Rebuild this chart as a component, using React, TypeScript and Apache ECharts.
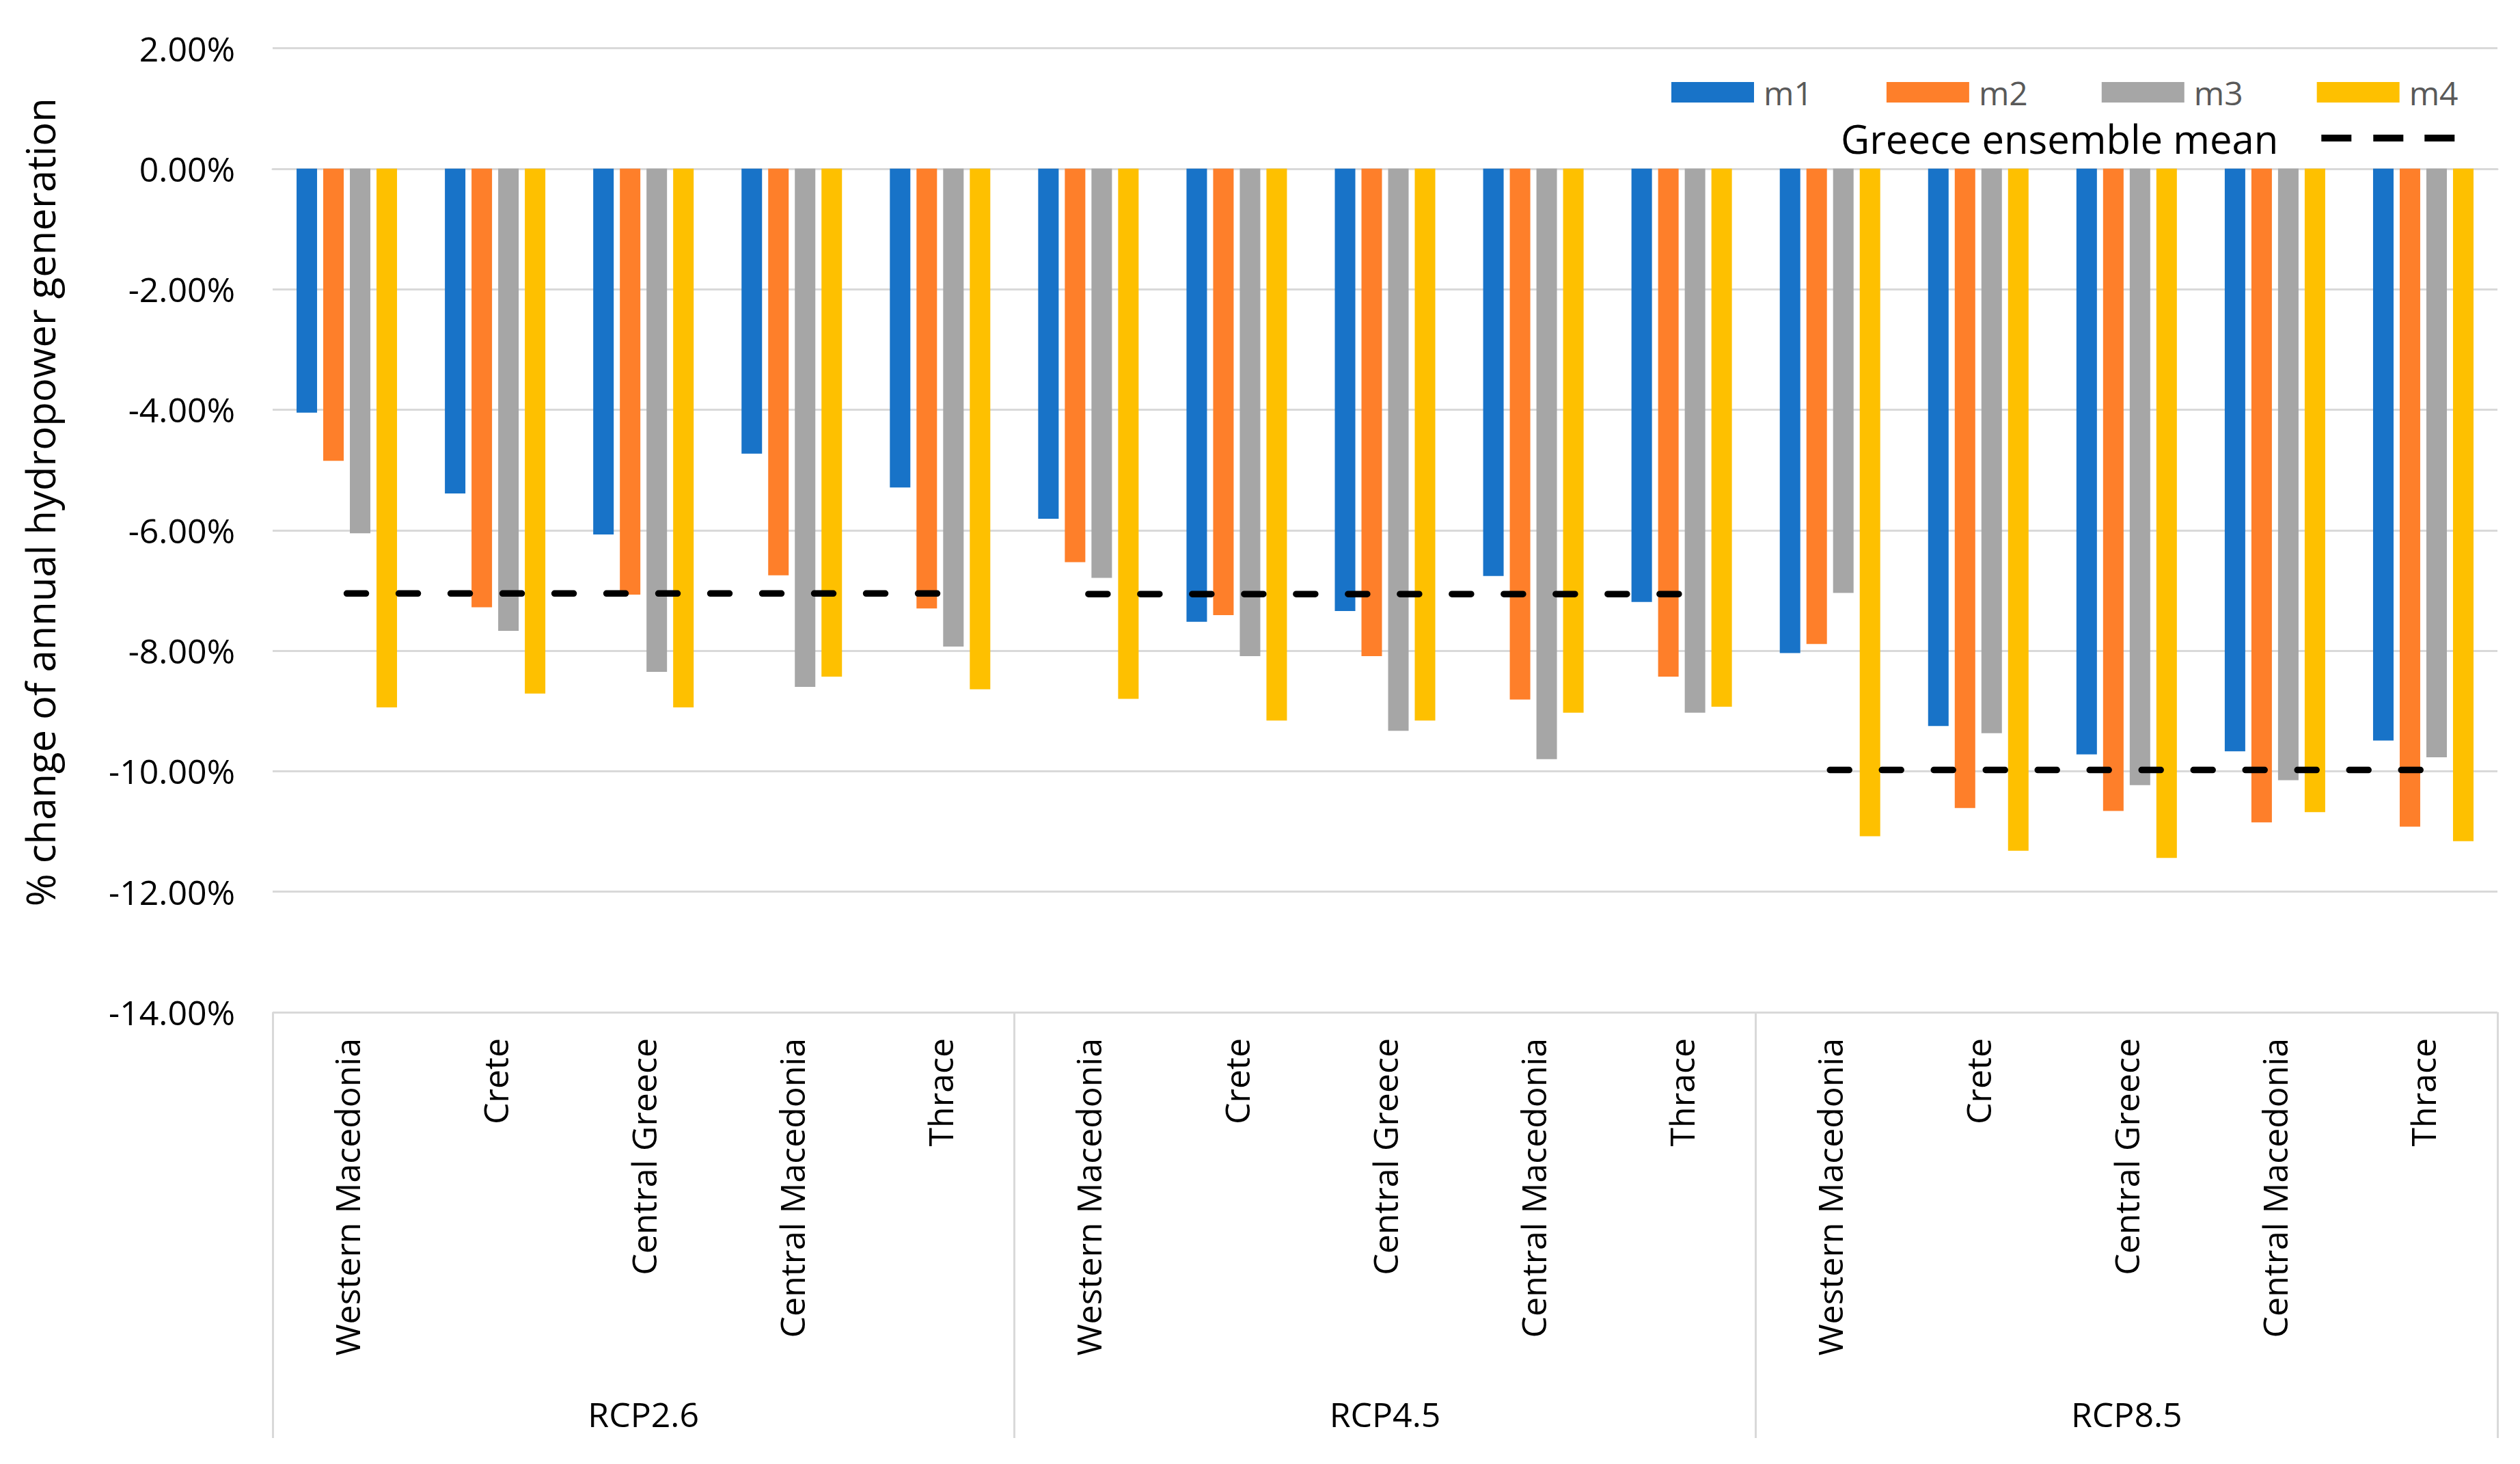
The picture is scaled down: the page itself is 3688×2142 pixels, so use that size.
import React, { useEffect, useRef } from 'react';
import * as echarts from 'echarts';

const scenarios = ['RCP2.6', 'RCP4.5', 'RCP8.5'];
const regions = ['Western Macedonia', 'Crete', 'Central Greece', 'Central Macedonia', 'Thrace'];
const categories = scenarios.flatMap(() => regions);

const m1 = [-4.05, -5.39, -6.07, -4.73, -5.29, -5.81, -7.52, -7.34, -6.76, -7.19, -8.04, -9.25, -9.72, -9.67, -9.49];
const m2 = [-4.85, -7.28, -7.07, -6.75, -7.30, -6.53, -7.41, -8.09, -8.81, -8.43, -7.89, -10.61, -10.66, -10.85, -10.92];
const m3 = [-6.05, -7.67, -8.35, -8.60, -7.93, -6.79, -8.09, -9.33, -9.80, -9.03, -7.04, -9.37, -10.23, -10.15, -9.77];
const m4 = [-8.94, -8.71, -8.94, -8.43, -8.64, -8.80, -9.16, -9.16, -9.03, -8.93, -11.08, -11.32, -11.44, -10.68, -11.16];
const ensembleMean = [-7.05, -7.06, -9.98];

const modelNames = ['m1', 'm2', 'm3', 'm4'];
const modelValues = [m1, m2, m3, m4];
const modelColors = ['#1873C8', '#FE7F2A', '#A6A6A6', '#FEC000'];
const meanName = 'Greece ensemble mean';

const FONT = 'Open Sans';

export default function App() {
  const ref = useRef<HTMLDivElement>(null);
  useEffect(() => {
    if (!ref.current) return;
    const chart = echarts.init(ref.current, null, { renderer: 'svg' });
    const barSeries = modelNames.map((name, k) => ({
      name,
      type: 'bar',
      xAxisIndex: 0,
      data: modelValues[k],
      barWidth: 30,
      barGap: '30%',
      itemStyle: { color: modelColors[k] },
    }));
    const meanSeries = scenarios.map((s, g) => ({
      name: meanName,
      type: 'line',
      xAxisIndex: 0,
      symbol: 'none',
      connectNulls: false,
      data: categories.map((_, i) => (Math.floor(i / regions.length) === g ? ensembleMean[g] : '-')),
      lineStyle: { color: '#000', width: 9.5, type: [28, 48], cap: 'round' },
      itemStyle: { color: '#000' },
      z: 5,
    }));
    chart.setOption({
      animation: false,
      backgroundColor: '#fff',
      textStyle: { fontFamily: FONT },
      grid: { left: 399, right: 33, top: 70.5, bottom: 661, containLabel: false },
      legend: [
        {
          data: modelNames,
          left: 2441,
          top: 106,
          icon: 'rect',
          itemWidth: 121,
          itemHeight: 30,
          itemGap: 108,
          selectedMode: false,
          textStyle: { fontFamily: FONT, fontSize: 48, color: '#595959', padding: [0, 0, 0, 9] },
        },
        {
          data: [{ name: meanName, icon: 'path://M0,0h44v10h-44z M76,0h44v10h-44z M151,0h44v10h-44z' }],
          left: 2689,
          top: 168,
          align: 'right',
          itemWidth: 195,
          itemHeight: 10,
          selectedMode: false,
          itemStyle: { color: '#000', borderWidth: 0 },
          lineStyle: { width: 0 },
          textStyle: { fontFamily: FONT, fontSize: 58, color: '#000', padding: [0, 58, 0, 0] },
        },
      ],
      xAxis: [
        {
          type: 'category',
          position: 'bottom',
          data: categories,
          axisLine: { show: true, lineStyle: { color: '#D9D9D9', width: 3 } },
          axisTick: { show: false },
          axisLabel: { interval: 0, rotate: 90, margin: 38, fontFamily: FONT, fontSize: 50, color: '#000' },
          splitLine: { show: false },
        },
        {
          type: 'category',
          position: 'bottom',
          data: scenarios,
          axisLine: { show: false },
          axisTick: { show: true, length: 623, lineStyle: { color: '#D9D9D9', width: 3 } },
          axisLabel: { interval: 0, margin: 563, fontFamily: FONT, fontSize: 50, color: '#000' },
          splitLine: { show: false },
        },
      ],
      yAxis: {
        type: 'value',
        min: -14,
        max: 2,
        interval: 2,
        name: '% change of annual hydropower generation',
        nameLocation: 'middle',
        nameGap: 312,
        nameTextStyle: { fontFamily: FONT, fontSize: 58, color: '#000', padding: [0, 0, 0, 82] },
        axisLine: { show: false },
        axisTick: { show: false },
        axisLabel: {
          margin: 55,
          fontFamily: FONT,
          fontSize: 50,
          color: '#000',
          formatter: (v: number) => v.toFixed(2) + '%',
        },
        splitLine: { lineStyle: { color: '#D9D9D9', width: 3 } },
      },
      series: [...barSeries, ...meanSeries],
    });
    return () => chart.dispose();
  }, []);
  return (
    <div
      ref={ref}
      style={{ position: 'fixed', left: 0, top: 0, width: '100vw', height: '100vh', background: '#fff' }}
    />
  );
}
